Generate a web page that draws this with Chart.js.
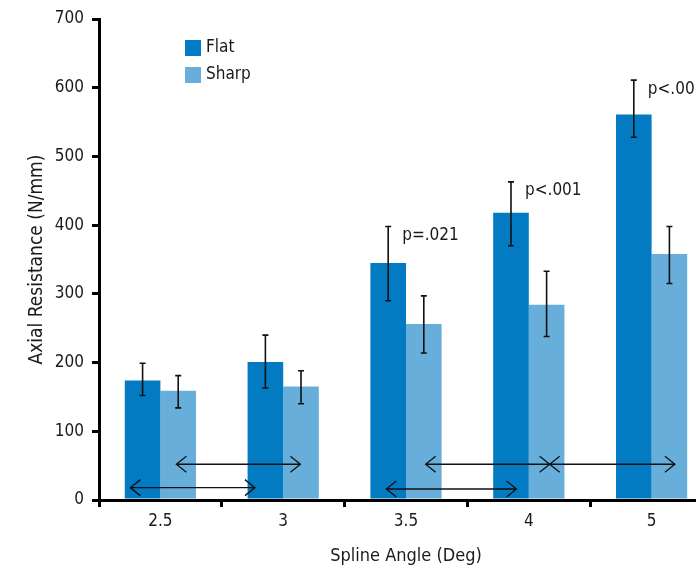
<!DOCTYPE html>
<html><head><meta charset="utf-8">
<script src="https://cdn.jsdelivr.net/npm/chart.js@4"></script>
<style>html,body{margin:0;padding:0;overflow:hidden;background:#fff}
#wrap{position:relative;width:720px;height:571px}</style></head>
<body><div id="wrap"><canvas id="c"></canvas></div>
<script>
const categories = ['2.5', '3', '3.5', '4', '5'];
const flatValues = [174, 201, 345, 418, 561];
const flatUpper  = [199, 240, 398, 463, 611];
const flatLower  = [152, 163, 290, 370, 528];
const sharpValues = [159, 165, 256, 284, 358];
const sharpUpper  = [181, 188, 297, 333, 398];
const sharpLower  = [134, 140, 214, 238, 315];
const yTickValues = [0, 100, 200, 300, 400, 500, 600, 700];
const pLabels = [null, null, 'p=.021', 'p<.001', 'p<.001'];
// comparison arrows: from/to in category index units, y in axis units
const arrowFrom = [-0.245, 0.13, 1.84, 2.16, 3.17];
const arrowTo   = [0.77, 1.14, 2.90, 3.17, 4.19];
const arrowY    = [18, 52, 16, 52, 52];

const FONT = '"Liberation Sans Narrow", "DejaVu Sans Condensed", "Roboto", sans-serif';
const FLAT = '#037BC2';
const SHARP = '#67AEDA';

const overlay = {
  id: 'overlay',
  afterDatasetsDraw(chart) {
    const ctx = chart.ctx, xs = chart.scales.x, ys = chart.scales.y;
    const bounds = [[flatUpper, flatLower], [sharpUpper, sharpLower]];
    ctx.save();
    // error bars
    ctx.strokeStyle = '#111';
    ctx.lineWidth = 1.6;
    chart.data.datasets.forEach((ds, di) => {
      const meta = chart.getDatasetMeta(di);
      meta.data.forEach((bar, i) => {
        const yt = ys.getPixelForValue(bounds[di][0][i]);
        const yb = ys.getPixelForValue(bounds[di][1][i]);
        ctx.beginPath();
        ctx.moveTo(bar.x, yt); ctx.lineTo(bar.x, yb);
        ctx.moveTo(bar.x - 3, yt); ctx.lineTo(bar.x + 3, yt);
        ctx.moveTo(bar.x - 3, yb); ctx.lineTo(bar.x + 3, yb);
        ctx.stroke();
      });
    });
    // p-values
    const flatMeta = chart.getDatasetMeta(0);
    ctx.fillStyle = '#1a1a1a';
    ctx.font = '17px ' + FONT;
    ctx.textAlign = 'left';
    ctx.textBaseline = 'middle';
    pLabels.forEach((p, i) => {
      if (!p) return;
      const bar = flatMeta.data[i];
      ctx.fillText(p, bar.x + 14, ys.getPixelForValue(flatUpper[i]) + 9);
    });
    // arrows
    const c0 = xs.getPixelForValue(0), cw = xs.getPixelForValue(1) - c0;
    ctx.strokeStyle = '#111';
    ctx.lineWidth = 1.3;
    arrowFrom.forEach((f, i) => {
      const x1 = c0 + f * cw, x2 = c0 + arrowTo[i] * cw;
      const y = ys.getPixelForValue(arrowY[i]);
      ctx.beginPath();
      ctx.moveTo(x1, y); ctx.lineTo(x2, y);
      ctx.moveTo(x1 + 10, y - 8); ctx.lineTo(x1, y); ctx.lineTo(x1 + 10, y + 8);
      ctx.moveTo(x2 - 10, y - 8); ctx.lineTo(x2, y); ctx.lineTo(x2 - 10, y + 8);
      ctx.stroke();
    });
    // legend
    const ca = chart.chartArea;
    ctx.font = '17px ' + FONT;
    chart.data.datasets.forEach((ds, di) => {
      const lx = ca.left + 86, ly = ca.top + 21 + di * 27;
      ctx.fillStyle = ds.backgroundColor;
      ctx.fillRect(lx, ly, 16, 16);
      ctx.fillStyle = '#1a1a1a';
      ctx.fillText(ds.label, lx + 21, ly + 8);
    });
    ctx.restore();
  }
};

new Chart(document.getElementById('c'), {
  type: 'bar',
  data: {
    labels: categories,
    datasets: [
      { label: 'Flat', data: flatValues, backgroundColor: FLAT },
      { label: 'Sharp', data: sharpValues, backgroundColor: SHARP }
    ]
  },
  options: {
    responsive: true,
    maintainAspectRatio: false,
    animation: false,
    layout: { padding: { top: 19, right: 7, left: 0, bottom: 0 } },
    datasets: { bar: { categoryPercentage: 0.58, barPercentage: 1.0 } },
    plugins: { legend: { display: false }, tooltip: { enabled: false } },
    scales: {
      x: {
        grid: { display: true, drawOnChartArea: false, tickLength: 7, lineWidth: 3, color: '#000', offset: true },
        border: { display: true, width: 3, color: '#000' },
        ticks: { color: '#1a1a1a', font: { family: FONT, size: 17 }, padding: 4 },
        title: { display: true, text: 'Spline Angle (Deg)', color: '#1a1a1a', font: { family: FONT, size: 18 }, padding: { top: 0, bottom: 4 } },
        afterFit(s) { s.height = 71; }
      },
      y: {
        min: 0, max: 700,
        afterBuildTicks(s) { s.ticks = yTickValues.map(v => ({ value: v })); },
        grid: { display: true, drawOnChartArea: false, tickLength: 7, lineWidth: 3, color: '#000' },
        border: { display: true, width: 3, color: '#000' },
        ticks: { color: '#1a1a1a', font: { family: FONT, size: 17 }, padding: 8 },
        title: { display: true, text: 'Axial Resistance (N/mm)', color: '#1a1a1a', font: { family: FONT, size: 19 }, padding: { top: 26, bottom: 0 } },
        afterFit(s) { s.width = 99; }
      }
    }
  },
  plugins: [overlay]
});
</script>
</body></html>
